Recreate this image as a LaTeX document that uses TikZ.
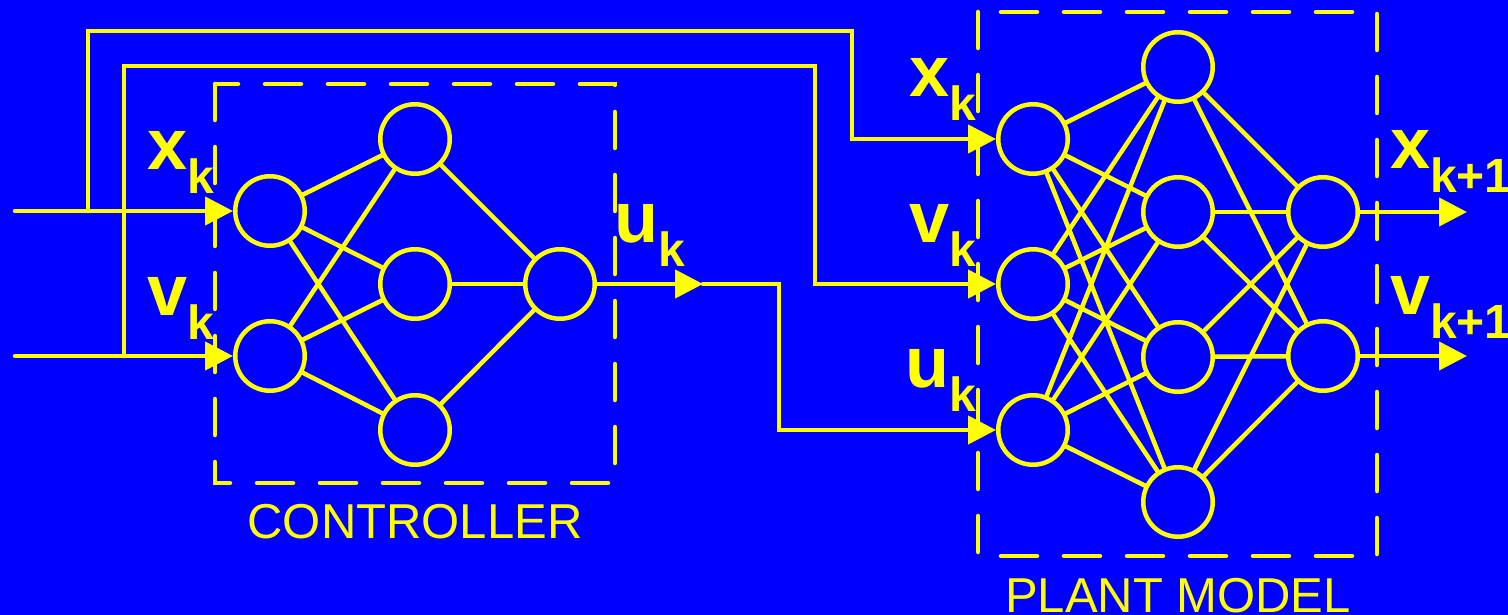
\documentclass[tikz,border=0pt]{standalone}
\usepackage{fontspec}
\setmainfont{Liberation Sans}
\usepackage{tikz}
\usetikzlibrary{arrows.meta}
\definecolor{panelblue}{RGB}{0,0,255}
\definecolor{netyellow}{RGB}{255,255,0}
\newcommand{\siglabel}[2]{{\fontsize{72}{72}\selectfont\bfseries #1}\raisebox{-24pt}{\fontsize{48}{48}\selectfont\bfseries #2}}

\begin{document}
\begin{tikzpicture}[x=1pt,y=-1pt,>={Triangle[length=28pt,width=28pt]},
  neuron/.style={circle,draw=netyellow,line width=4.5pt,minimum size=69.5pt,inner sep=0pt},
  wire/.style={netyellow,line width=4.5pt,line cap=round},
  dashbox/.style={netyellow,line width=4.5pt,line cap=round,dash pattern=on 36pt off 27pt},
  sig/.style={netyellow,anchor=base west,inner sep=0pt},
  boxcap/.style={netyellow,anchor=base,inner sep=0pt,font=\fontsize{49}{49}\selectfont}]
  \fill[panelblue] (0,0) rectangle (1508,615);
  \useasboundingbox (0,0) rectangle (1508,615);
  % controller
  \node[neuron] (ci1) at (270,211) {};
  \node[neuron] (ci2) at (270,356) {};
  \node[neuron] (ch1) at (415,139) {};
  \node[neuron] (ch2) at (415,284) {};
  \node[neuron] (ch3) at (415,430) {};
  \node[neuron] (co)  at (560,284) {};
  \foreach \i in {1,2} \foreach \j in {1,2,3} \draw[wire] (ci\i) -- (ch\j);
  \foreach \j in {1,2,3} \draw[wire] (ch\j) -- (co);
  \draw[dashbox] (215,84) rectangle (615,483);
  \node[boxcap] (ctrlcap) at (415,538) {CONTROLLER};
  % plant model
  \node[neuron] (pi1) at (1033,139) {};
  \node[neuron] (pi2) at (1033,284) {};
  \node[neuron] (pi3) at (1033,430) {};
  \node[neuron] (ph1) at (1178,67) {};
  \node[neuron] (ph2) at (1178,212) {};
  \node[neuron] (ph3) at (1178,357) {};
  \node[neuron] (ph4) at (1178,502) {};
  \node[neuron] (po1) at (1323,212) {};
  \node[neuron] (po2) at (1323,356) {};
  \foreach \i in {1,2,3} \foreach \j in {1,...,4} \draw[wire] (pi\i) -- (ph\j);
  \foreach \j in {1,...,4} \foreach \k in {1,2} \draw[wire] (ph\j) -- (po\k);
  \draw[dashbox] (978,12) rectangle (1377,556);
  \node[boxcap] (plantcap) at (1178,612) {PLANT MODEL};
  % signals
  \coordinate (xin) at (15,211);
  \coordinate (vin) at (15,356);
  \coordinate (xtap) at (88,211);
  \coordinate (vtap) at (124,356);
  \coordinate (xtop) at (852,31);
  \coordinate (vtop) at (815,66);
  \coordinate (umid) at (703,284);
  \coordinate (ubend) at (779,430);
  \coordinate (xout) at (1467,212);
  \coordinate (vout) at (1467,356);
  \draw[wire,->] (xin) -- (ci1);
  \draw[wire,->] (vin) -- (ci2);
  \draw[wire,->] (xtap) |- (xtop) |- (pi1);
  \draw[wire,->] (vtap) |- (vtop) |- (pi2);
  \draw[wire,->] (co) -- (umid);
  \draw[wire,->] (umid) -| (ubend) -- (pi3);
  \draw[wire,->] (po1) -- (xout);
  \draw[wire,->] (po2) -- (vout);
  % labels
  \node[sig] (lxc) at (147,170) {\siglabel{x}{k}};
  \node[sig] (lvc) at (147,315) {\siglabel{v}{k}};
  \node[sig] (luc) at (614,242) {\siglabel{u}{k}};
  \node[sig] (lxp) at (909,97)  {\siglabel{x}{k}};
  \node[sig] (lvp) at (909,242) {\siglabel{v}{k}};
  \node[sig] (lup) at (905,387) {\siglabel{u}{k}};
  \node[sig] (lxn) at (1390,169) {\siglabel{x}{k+1}};
  \node[sig] (lvn) at (1390,314) {\siglabel{v}{k+1}};
\end{tikzpicture}
\end{document}
